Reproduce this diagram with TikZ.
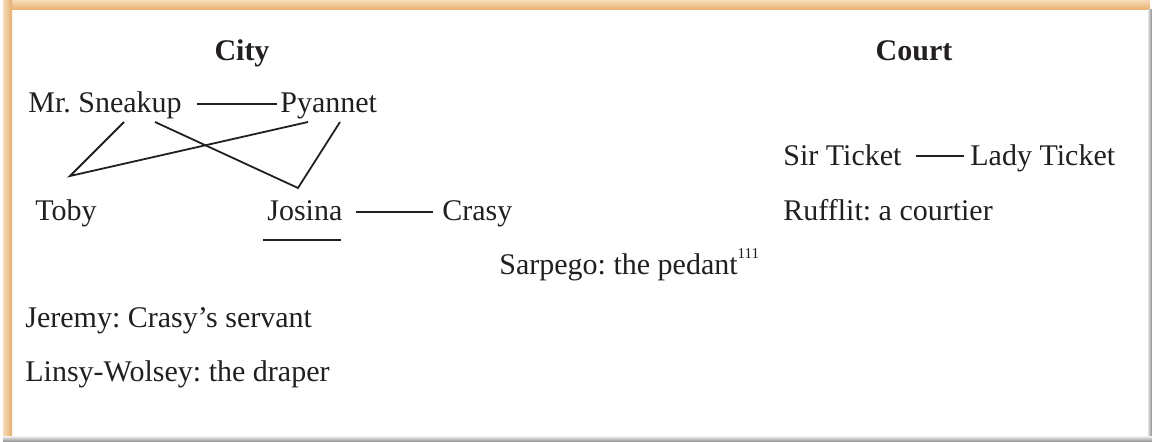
\documentclass[tikz,border=0pt]{standalone}
\usepackage{fontspec}
\setmainfont{Liberation Serif}
\usepackage{tikz}
\usetikzlibrary{calc}
\definecolor{frametan}{HTML}{E6AE6E}
\definecolor{frametanlt}{HTML}{F8DCB8}
\definecolor{framegrey}{HTML}{8A8A8A}
\definecolor{ink}{HTML}{231F20}
\frenchspacing

\begin{document}
\begin{tikzpicture}[
  x=0.5pt, y=-0.5pt,
  every node/.style={font=\fontsize{15}{18}\selectfont, text=ink,
                     anchor=base west, inner sep=0pt},
  head/.style={anchor=base, font=\fontsize{15}{18}\selectfont\bfseries},
  tie/.style={draw=ink, line width=0.9pt}
]
  \useasboundingbox (0,0) rectangle (1152,442);
  \fill[white] (0,0) rectangle (1152,442);

  % frame
  \shade[top color=frametanlt, bottom color=frametan] (3,0) rectangle (1150,10);
  \shade[left color=frametanlt, right color=frametan] (3,0) rectangle (12,438);
  \shade[left color=framegrey!25, right color=framegrey] (1148,10) rectangle (1152,442);
  \shade[top color=framegrey!25, bottom color=framegrey] (3,437) rectangle (1152,442);

  % headings
  \node[head] (city) at (242,61) {City};
  \node[head] (court) at (914,61) {Court};

  % city
  \node (sneakup) at (28,113) {Mr. Sneakup};
  \node (pyannet) at (280,113) {Pyannet};
  \node (toby) at (35,221) {Toby};
  \node (josina) at (267,221) {Josina};
  \node (crasy) at (442,221) {Crasy};
  \node (jeremy) at (25,328) {Jeremy: Crasy's servant};
  \node (linsy) at (25,382) {Linsy-Wolsey: the draper};

  \node (sarpego) at (499,275) {Sarpego: the pedant\raisebox{8pt}{\fontsize{7.5}{8}\selectfont 111}};

  % court
  \node (sirticket) at (783,166) {Sir Ticket};
  \node (ladyticket) at (970,166) {Lady Ticket};
  \node (rufflit) at (783,221) {Rufflit: a courtier};

  % ties
  \draw[tie] ($(sneakup.base east)+(15,-9)$) -- ($(pyannet.base west)+(-3,-9)$);
  \draw[tie] ($(sneakup.base west)+(96,9)$) -- ($(toby.base west)+(35,-45)$)
             -- ($(pyannet.base west)+(28,9)$);
  \draw[tie] ($(sneakup.base west)+(127,9)$) -- ($(josina.base west)+(31,-33)$)
             -- ($(pyannet.base west)+(60,9)$);
  \draw[tie] ($(josina.base west)+(-4,19)$) -- ($(josina.base east)+(-2,19)$);
  \draw[tie] ($(josina.base east)+(13,-9)$) -- ($(crasy.base west)+(-9,-9)$);
  \draw[tie] ($(sirticket.base east)+(14,-10)$) -- ($(ladyticket.base west)+(-6,-10)$);
\end{tikzpicture}
\end{document}
